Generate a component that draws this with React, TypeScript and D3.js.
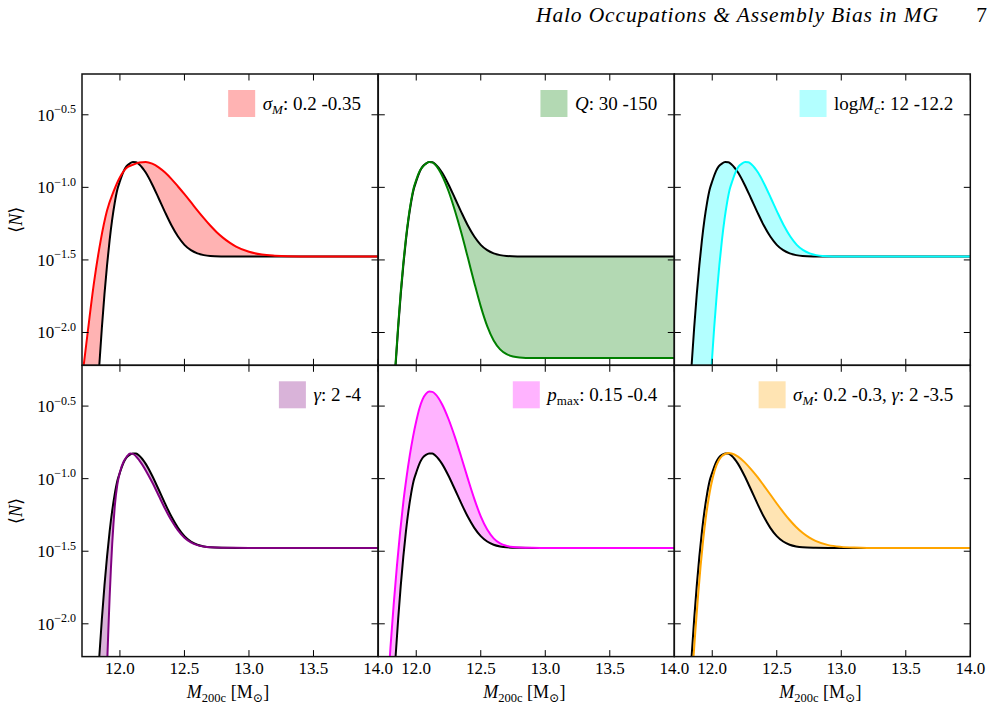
import React, { useEffect, useRef } from "react";
import * as d3 from "d3";

const W = 996;
const H = 709;

// log10 M200c / log10 <N> of the fiducial occupation (black curve, every panel)
const BASE_LOGM = [11.82, 11.84, 11.86, 11.88, 11.90, 11.92, 11.94, 11.96, 11.98, 12.00, 12.03, 12.05, 12.075, 12.10, 12.125, 12.15, 12.20, 12.25, 12.30, 12.35, 12.40, 12.45, 12.50, 12.55, 12.60, 12.65, 12.70, 12.80, 12.90, 13.00, 13.50, 14.00];
const BASE_LOGN = [-2.52, -2.227, -1.967, -1.737, -1.537, -1.365, -1.221, -1.105, -1.015, -0.958, -0.886, -0.856, -0.836, -0.826, -0.827, -0.842, -0.898, -0.980, -1.075, -1.172, -1.263, -1.339, -1.396, -1.433, -1.455, -1.467, -1.473, -1.476, -1.477, -1.477, -1.477, -1.477];

// sigma_M = 0.35
const SIGMA_LOGM = [11.70, 11.72, 11.75, 11.80, 11.85, 11.90, 11.95, 12.00, 12.05, 12.10, 12.15, 12.20, 12.25, 12.30, 12.35, 12.40, 12.45, 12.50, 12.55, 12.60, 12.65, 12.70, 12.75, 12.80, 12.85, 12.90, 13.00, 13.10, 13.20, 13.30, 13.50, 14.00];
const SIGMA_LOGN = [-2.37, -2.22, -2.00, -1.65, -1.37, -1.16, -1.03, -0.93, -0.866, -0.845, -0.829, -0.825, -0.837, -0.862, -0.898, -0.943, -0.994, -1.047, -1.102, -1.158, -1.212, -1.263, -1.309, -1.348, -1.381, -1.408, -1.444, -1.463, -1.471, -1.475, -1.477, -1.477];

// Q = 150
const Q_LOGM = [11.82, 11.84, 11.86, 11.88, 11.90, 11.92, 11.94, 11.96, 11.98, 12.00, 12.03, 12.05, 12.075, 12.10, 12.125, 12.15, 12.20, 12.25, 12.30, 12.35, 12.40, 12.45, 12.50, 12.55, 12.60, 12.65, 12.70, 12.75, 12.80, 12.90, 13.00, 14.00];
const Q_LOGN = [-2.50, -2.21, -1.95, -1.72, -1.52, -1.35, -1.208, -1.093, -1.005, -0.948, -0.882, -0.858, -0.837, -0.825, -0.828, -0.846, -0.918, -1.025, -1.161, -1.315, -1.484, -1.657, -1.820, -1.956, -2.055, -2.116, -2.149, -2.165, -2.172, -2.176, -2.176, -2.176];

// log Mc = 12.2
const MC_LOGM = [11.975, 11.995, 12.015, 12.035, 12.055, 12.075, 12.095, 12.115, 12.135, 12.155, 12.185, 12.205, 12.23, 12.255, 12.28, 12.305, 12.355, 12.405, 12.455, 12.505, 12.555, 12.605, 12.655, 12.705, 12.755, 12.805, 12.855, 12.955, 13.055, 13.155, 13.655, 14.00];
const MC_LOGN = [-2.52, -2.227, -1.967, -1.737, -1.537, -1.365, -1.221, -1.105, -1.015, -0.958, -0.886, -0.856, -0.836, -0.826, -0.827, -0.842, -0.898, -0.980, -1.075, -1.172, -1.263, -1.339, -1.396, -1.433, -1.455, -1.467, -1.473, -1.476, -1.477, -1.477, -1.477, -1.477];

// gamma = 4
const GAMMA_LOGM = [11.89, 11.90, 11.91, 11.92, 11.93, 11.94, 11.95, 11.96, 11.98, 12.00, 12.03, 12.05, 12.08, 12.10, 12.15, 12.20, 12.25, 12.30, 12.35, 12.40, 12.45, 12.50, 12.55, 12.60, 12.65, 12.70, 12.80, 13.00, 14.00];
const GAMMA_LOGN = [-2.60, -2.30, -2.05, -1.82, -1.62, -1.45, -1.31, -1.19, -1.04, -0.955, -0.880, -0.852, -0.826, -0.829, -0.874, -0.943, -1.025, -1.116, -1.207, -1.289, -1.357, -1.407, -1.439, -1.458, -1.468, -1.473, -1.4765, -1.477, -1.477];

// p_max = 0.4
const PMAX_LOGM = [11.78, 11.79, 11.80, 11.825, 11.85, 11.875, 11.90, 11.925, 11.95, 11.975, 12.00, 12.025, 12.05, 12.075, 12.10, 12.125, 12.15, 12.20, 12.25, 12.30, 12.35, 12.40, 12.45, 12.50, 12.55, 12.60, 12.65, 12.70, 12.75, 12.80, 12.90, 13.00, 14.00];
const PMAX_LOGN = [-2.427, -2.303, -2.167, -1.870, -1.604, -1.368, -1.161, -0.990, -0.840, -0.712, -0.605, -0.515, -0.452, -0.416, -0.400, -0.402, -0.419, -0.487, -0.589, -0.714, -0.854, -1.000, -1.139, -1.260, -1.351, -1.411, -1.446, -1.463, -1.4715, -1.475, -1.4768, -1.477, -1.477];

// sigma_M = 0.3, gamma = 3.5
const BOTH_LOGM = [11.83, 11.85, 11.87, 11.89, 11.91, 11.93, 11.95, 11.97, 11.99, 12.02, 12.05, 12.075, 12.10, 12.125, 12.15, 12.20, 12.25, 12.30, 12.35, 12.40, 12.45, 12.50, 12.55, 12.60, 12.65, 12.70, 12.75, 12.80, 12.90, 13.00, 13.10, 13.20, 14.00];
const BOTH_LOGN = [-2.58, -2.29, -2.04, -1.81, -1.60, -1.42, -1.27, -1.15, -1.05, -0.94, -0.875, -0.845, -0.830, -0.824, -0.826, -0.848, -0.886, -0.934, -0.988, -1.048, -1.109, -1.171, -1.230, -1.285, -1.333, -1.373, -1.405, -1.429, -1.458, -1.470, -1.475, -1.477, -1.477];

const X_TICKS = [12.0, 12.5, 13.0, 13.5, 14.0];
const X_TICK_LABELS = ["12.0", "12.5", "13.0", "13.5", "14.0"];
const Y_TICKS = [-0.5, -1.0, -1.5, -2.0];
const Y_TICK_LABELS = ["\u22120.5", "\u22121.0", "\u22121.5", "\u22122.0"];

// legend pieces: [text, style]; i = italic, si = italic subscript, su = upright subscript
const LEGENDS: [string, string][][] = [
  [["σ", "i"], ["M", "si"], [": 0.2 -0.35", "n"]],
  [["Q", "i"], [": 30 -150", "n"]],
  [["log", "n"], ["M", "i"], ["c", "si"], [": 12 -12.2", "n"]],
  [["γ", "i"], [": 2 -4", "n"]],
  [["p", "i"], ["max", "su"], [": 0.15 -0.4", "n"]],
  [["σ", "i"], ["M", "si"], [": 0.2 -0.3, ", "n"], ["γ", "i"], [": 2 -3.5", "n"]],
];

const VARIANTS = [
  [SIGMA_LOGM, SIGMA_LOGN],
  [Q_LOGM, Q_LOGN],
  [MC_LOGM, MC_LOGN],
  [GAMMA_LOGM, GAMMA_LOGN],
  [PMAX_LOGM, PMAX_LOGN],
  [BOTH_LOGM, BOTH_LOGN],
];

const LINE_COLORS = ["#ff0000", "#008000", "#00ffff", "#800080", "#ff00ff", "#ffa500"];
const FILL_COLORS = ["#ffb3b3", "#b3d9b3", "#b3ffff", "#d9b3d9", "#ffb3ff", "#ffe4b3"];

const COL_X = [82, 378.3, 674.3];
const ROW_Y = [74, 365.3];
const PW = 296;
const PH = 291.3;
const FONT = "'Liberation Serif', 'Times New Roman', Times, 'DejaVu Serif', serif";

const zip = (xs: number[], ys: number[]) => xs.map((x, i) => [x, ys[i]] as [number, number]);

const App = () => {
  const ref = useRef<SVGSVGElement>(null);

  useEffect(() => {
    const svg = d3.select(ref.current);
    svg.selectAll("*").remove();
    svg.style("font-family", FONT);

    svg.append("text").attr("x", 938).attr("y", 22).attr("text-anchor", "end")
      .attr("font-size", 21.5).attr("font-style", "italic")
      .attr("textLength", 402).attr("lengthAdjust", "spacing")
      .text("Halo Occupations & Assembly Bias in MG");
    svg.append("text").attr("x", 987).attr("y", 22).attr("text-anchor", "end")
      .attr("font-size", 21.5).text("7");

    const base = zip(BASE_LOGM, BASE_LOGN);

    VARIANTS.forEach(([xs, ys], i) => {
      const col = i % 3;
      const row = Math.floor(i / 3);
      const x0 = COL_X[col];
      const y0 = ROW_Y[row];
      const x = d3.scaleLinear().domain([11.706, 14.0]).range([x0, x0 + PW]);
      const y = d3.scaleLinear().domain([-2.226, -0.219]).range([y0 + PH, y0]);
      const g = svg.append("g");

      const clipId = `clip-${i}`;
      g.append("clipPath").attr("id", clipId).append("rect")
        .attr("x", x0).attr("y", y0).attr("width", PW).attr("height", PH);

      const line = d3.line<[number, number]>().x(d => x(d[0])).y(d => y(d[1])).curve(d3.curveMonotoneX);
      const pts = zip(xs, ys);
      const back = line(base.slice().reverse()) as string;
      const band = (line(pts) as string) + "L" + back.slice(1) + "Z";

      const plot = g.append("g").attr("clip-path", `url(#${clipId})`);
      plot.append("path").attr("d", band).attr("fill", FILL_COLORS[i]).attr("stroke", "none");
      plot.append("path").attr("d", line(base)).attr("fill", "none").attr("stroke", "#000").attr("stroke-width", 2);
      plot.append("path").attr("d", line(pts)).attr("fill", "none").attr("stroke", LINE_COLORS[i]).attr("stroke-width", 2);

      // inward ticks on all four sides
      const tl = 6.5;
      X_TICKS.forEach(t => {
        g.append("line").attr("x1", x(t)).attr("x2", x(t)).attr("y1", y0 + PH).attr("y2", y0 + PH - tl).attr("stroke", "#000");
        g.append("line").attr("x1", x(t)).attr("x2", x(t)).attr("y1", y0).attr("y2", y0 + tl).attr("stroke", "#000");
      });
      Y_TICKS.forEach(t => {
        g.append("line").attr("x1", x0).attr("x2", x0 + tl).attr("y1", y(t)).attr("y2", y(t)).attr("stroke", "#000");
        g.append("line").attr("x1", x0 + PW).attr("x2", x0 + PW - tl).attr("y1", y(t)).attr("y2", y(t)).attr("stroke", "#000");
      });

      g.append("rect").attr("x", x0).attr("y", y0).attr("width", PW).attr("height", PH)
        .attr("fill", "none").attr("stroke", "#111").attr("stroke-width", 1.5);

      if (row === 1) {
        X_TICKS.forEach((t, k) => {
          g.append("text").attr("x", x(t)).attr("y", y0 + PH + 17).attr("text-anchor", "middle")
            .attr("font-size", 17).text(X_TICK_LABELS[k]);
        });
        const xl = g.append("text").attr("x", x0 + PW / 2 - 2).attr("y", y0 + PH + 41.5)
          .attr("text-anchor", "middle").attr("font-size", 18);
        xl.append("tspan").attr("font-style", "italic").text("M");
        xl.append("tspan").attr("font-size", 12.5).attr("dy", 3.5).text("200c");
        xl.append("tspan").attr("dy", -3.5).text(" [M");
        xl.append("tspan").attr("font-size", 12.5).attr("dy", 3.5).text("⊙");
        xl.append("tspan").attr("dy", -3.5).text("]");
      }

      if (col === 0) {
        Y_TICKS.forEach((t, k) => {
          const tx = g.append("text").attr("x", x0 - 6).attr("y", y(t) + 6).attr("text-anchor", "end").attr("font-size", 17);
          tx.append("tspan").text("10");
          tx.append("tspan").attr("font-size", 12).attr("dy", -7.5).text(Y_TICK_LABELS[k]);
        });
        const yl = g.append("text").attr("transform", `translate(22,${y0 + PH / 2}) rotate(-90)`)
          .attr("text-anchor", "middle").attr("font-size", 18);
        yl.append("tspan").text("⟨");
        yl.append("tspan").attr("font-style", "italic").text("N");
        yl.append("tspan").text("⟩");
      }

      // legend: swatch + label, right aligned inside the panel
      const tx = x0 + PW - 17;
      const lg = g.append("text").attr("x", tx).attr("y", y0 + 35.5).attr("text-anchor", "end").attr("font-size", 19);
      let sub = false;
      LEGENDS[i].forEach(([t, s]) => {
        const ts = lg.append("tspan").text(t);
        const isSub = s === "si" || s === "su";
        if (isSub && !sub) ts.attr("dy", 4);
        if (!isSub && sub) ts.attr("dy", -4);
        if (isSub) ts.attr("font-size", 13);
        if (s === "i" || s === "si") ts.attr("font-style", "italic");
        sub = isSub;
      });
      const len = (lg.node() as SVGTextElement).getComputedTextLength();
      g.append("rect").attr("x", tx - len - 7.5 - 27).attr("y", y0 + 16).attr("width", 27).attr("height", 27)
        .attr("fill", FILL_COLORS[i]);
    });
  }, []);

  return (
    <svg ref={ref} width={W} height={H} style={{ position: "absolute", left: 0, top: 0, background: "#fff" }} />
  );
};

export default App;
